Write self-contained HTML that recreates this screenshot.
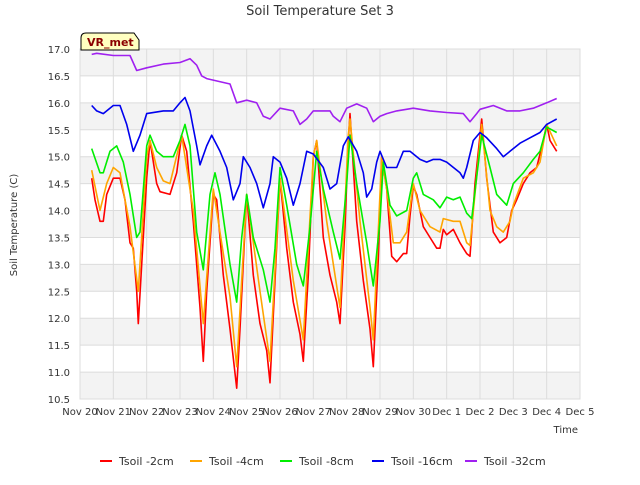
<!DOCTYPE html>
<html><head><meta charset="utf-8"><style>
body{margin:0;background:#fff;font-family:"Liberation Sans",sans-serif}
svg text{font-family:"DejaVu Sans","Liberation Sans",sans-serif}
</style></head><body>
<svg id="c" width="640" height="480"></svg>
<script>
const yTicks=[10.5,11.0,11.5,12.0,12.5,13.0,13.5,14.0,14.5,15.0,15.5,16.0,16.5,17.0];
const xTickLabels=["Nov 20","Nov 21","Nov 22","Nov 23","Nov 24","Nov 25","Nov 26","Nov 27","Nov 28","Nov 29","Nov 30","Dec 1","Dec 2","Dec 3","Dec 4","Dec 5"];
const seriesNames=["Tsoil -2cm","Tsoil -4cm","Tsoil -8cm","Tsoil -16cm","Tsoil -32cm"];
const seriesColors=["#ff0000","#ffa500","#00ee00","#0000ee","#a020f0"];
const dRed=[[0.35,14.6],[0.45,14.2],[0.6,13.8],[0.7,13.8],[0.8,14.3],[1.0,14.6],[1.2,14.6],[1.35,14.2],[1.5,13.4],[1.6,13.3],[1.7,12.5],[1.75,11.9],[1.85,13.0],[2.0,14.6],[2.1,15.3],[2.3,14.5],[2.4,14.35],[2.7,14.3],[2.9,14.7],[3.05,15.4],[3.2,15.1],[3.4,13.8],[3.6,12.2],[3.7,11.2],[3.8,12.5],[4.0,14.3],[4.1,14.2],[4.3,12.8],[4.5,11.8],[4.7,10.7],[4.8,11.8],[5.0,14.3],[5.2,12.8],[5.4,11.9],[5.6,11.4],[5.7,10.8],[5.85,12.7],[6.0,14.6],[6.2,13.3],[6.4,12.3],[6.6,11.7],[6.7,11.2],[6.85,12.8],[7.0,15.0],[7.1,15.3],[7.3,13.5],[7.5,12.8],[7.7,12.3],[7.8,11.9],[7.95,13.7],[8.05,15.3],[8.1,15.8],[8.3,13.8],[8.5,12.7],[8.7,11.8],[8.8,11.1],[8.95,13.1],[9.05,15.0],[9.2,14.4],[9.35,13.15],[9.5,13.05],[9.7,13.2],[9.8,13.2],[9.9,13.9],[10.0,14.45],[10.1,14.3],[10.3,13.7],[10.5,13.5],[10.7,13.3],[10.8,13.3],[10.9,13.65],[11.0,13.55],[11.2,13.65],[11.4,13.4],[11.5,13.3],[11.6,13.2],[11.7,13.15],[11.85,14.5],[12.05,15.7],[12.2,14.6],[12.4,13.6],[12.6,13.4],[12.8,13.5],[12.95,14.0],[13.1,14.2],[13.3,14.5],[13.5,14.7],[13.7,14.8],[13.9,15.3],[14.0,15.6],[14.1,15.3],[14.3,15.1]];
const dOrange=[[0.35,14.75],[0.6,14.0],[0.8,14.5],[1.0,14.8],[1.2,14.7],[1.5,13.7],[1.75,12.5],[2.0,15.0],[2.1,15.3],[2.3,14.8],[2.5,14.55],[2.7,14.5],[3.05,15.4],[3.4,14.0],[3.7,11.9],[4.0,14.4],[4.5,12.4],[4.7,11.1],[5.0,14.3],[5.4,12.5],[5.7,11.2],[6.0,14.6],[6.4,12.7],[6.7,11.6],[7.0,15.0],[7.1,15.3],[7.4,13.8],[7.8,12.2],[8.05,15.4],[8.1,15.7],[8.4,13.8],[8.7,12.2],[8.8,11.6],[9.05,15.0],[9.2,14.4],[9.4,13.4],[9.6,13.4],[9.8,13.6],[10.0,14.5],[10.2,14.0],[10.5,13.7],[10.8,13.6],[10.9,13.85],[11.2,13.8],[11.4,13.8],[11.6,13.4],[11.7,13.35],[12.05,15.6],[12.3,14.0],[12.5,13.7],[12.7,13.6],[12.9,13.8],[13.0,14.1],[13.3,14.6],[13.6,14.7],[13.8,14.9],[14.0,15.6],[14.3,15.2]];
const dGreen=[[0.35,15.15],[0.6,14.7],[0.7,14.7],[0.9,15.1],[1.1,15.2],[1.3,14.9],[1.5,14.3],[1.7,13.5],[1.8,13.6],[2.0,15.2],[2.1,15.4],[2.3,15.1],[2.5,15.0],[2.8,15.0],[3.0,15.3],[3.15,15.6],[3.3,15.2],[3.5,13.6],[3.7,12.9],[3.9,14.3],[4.05,14.7],[4.2,14.3],[4.5,13.0],[4.7,12.3],[4.85,13.5],[5.0,14.3],[5.2,13.5],[5.5,12.9],[5.7,12.3],[5.85,13.3],[6.0,14.8],[6.2,14.1],[6.5,13.0],[6.7,12.6],[6.9,13.7],[7.1,15.1],[7.3,14.4],[7.6,13.6],[7.8,13.1],[8.0,14.5],[8.1,15.4],[8.3,14.5],[8.6,13.4],[8.8,12.6],[9.0,13.8],[9.1,14.9],[9.3,14.1],[9.5,13.9],[9.8,14.0],[10.0,14.6],[10.1,14.7],[10.3,14.3],[10.6,14.2],[10.8,14.05],[11.0,14.25],[11.2,14.2],[11.4,14.25],[11.6,13.95],[11.75,13.85],[12.05,15.4],[12.3,14.8],[12.5,14.3],[12.8,14.1],[13.0,14.5],[13.3,14.7],[13.6,14.95],[13.8,15.1],[14.0,15.55],[14.3,15.45]];
const dBlue=[[0.35,15.95],[0.5,15.85],[0.7,15.8],[1.0,15.95],[1.2,15.95],[1.4,15.6],[1.6,15.1],[1.8,15.4],[2.0,15.8],[2.5,15.85],[2.8,15.85],[3.0,16.0],[3.15,16.1],[3.3,15.85],[3.5,15.2],[3.6,14.85],[3.8,15.2],[3.95,15.4],[4.2,15.1],[4.4,14.8],[4.6,14.2],[4.8,14.5],[4.9,15.0],[5.1,14.8],[5.3,14.5],[5.5,14.05],[5.7,14.5],[5.8,15.0],[6.0,14.9],[6.2,14.6],[6.4,14.1],[6.6,14.5],[6.8,15.1],[7.0,15.05],[7.3,14.8],[7.5,14.4],[7.7,14.5],[7.9,15.2],[8.05,15.37],[8.3,15.1],[8.5,14.7],[8.6,14.25],[8.75,14.4],[8.9,14.9],[9.0,15.1],[9.2,14.8],[9.5,14.8],[9.7,15.1],[9.9,15.1],[10.2,14.95],[10.4,14.9],[10.6,14.95],[10.8,14.95],[11.0,14.9],[11.4,14.7],[11.5,14.6],[11.6,14.8],[11.8,15.3],[12.0,15.45],[12.2,15.35],[12.5,15.15],[12.7,15.0],[12.9,15.1],[13.2,15.25],[13.5,15.35],[13.8,15.45],[14.0,15.6],[14.3,15.7]];
const dPurple=[[0.35,16.9],[0.5,16.92],[1.0,16.88],[1.5,16.88],[1.7,16.6],[2.0,16.65],[2.5,16.72],[3.0,16.75],[3.3,16.82],[3.5,16.7],[3.65,16.5],[3.8,16.45],[4.5,16.35],[4.7,16.0],[5.0,16.05],[5.3,16.0],[5.5,15.75],[5.7,15.7],[6.0,15.9],[6.4,15.85],[6.6,15.6],[6.8,15.7],[7.0,15.85],[7.5,15.85],[7.6,15.75],[7.8,15.65],[8.0,15.9],[8.3,15.98],[8.6,15.9],[8.8,15.65],[9.0,15.75],[9.2,15.8],[9.5,15.85],[10.0,15.9],[10.5,15.85],[11.0,15.82],[11.5,15.8],[11.7,15.65],[11.9,15.8],[12.0,15.88],[12.4,15.95],[12.8,15.85],[13.2,15.85],[13.6,15.9],[14.0,16.0],[14.3,16.08]];
const allSeries=[dRed,dOrange,dGreen,dBlue,dPurple];

const NS="http://www.w3.org/2000/svg";
const svg=document.getElementById('c');
const L=80,R=580,T=49,B=399;
const xs=d=>L+(d/15)*(R-L);
const ys=v=>B-(v-10.5)/6.5*(B-T);
function mk(t,a,p){const e=document.createElementNS(NS,t);for(const k in a)e.setAttribute(k,a[k]);(p||svg).appendChild(e);return e;}
// bands
for(let i=0;i<yTicks.length-1;i++){
  if(i%2===0){const b=mk('rect',{x:L,y:ys(yTicks[i+1]),width:R-L,height:ys(yTicks[i])-ys(yTicks[i+1]),fill:i%2===0?'#f3f3f3':'#fff'});
  
  }
}
yTicks.forEach(v=>{
  const g=mk('line',{x1:L,x2:R,y1:ys(v),y2:ys(v),stroke:'#dcdcdc','stroke-width':1});
  
  
  const t=mk('text',{x:L-10,y:ys(v)+4,'text-anchor':'end','font-size':10,fill:'#333'});
  t.textContent=v.toFixed(1);
  
  
});
xTickLabels.forEach((s,i)=>{
  const g=mk('line',{x1:xs(i),x2:xs(i),y1:T,y2:B,stroke:'#dcdcdc','stroke-width':1});
  
  
  const t=mk('text',{x:xs(i),y:B+16,'text-anchor':'middle','font-size':10,fill:'#333'});
  t.textContent=s;
  
  
});
const fr=mk('rect',{x:L,y:T,width:R-L,height:B-T,fill:'none',stroke:'#dcdcdc'});


allSeries.forEach((s,i)=>{
  const p=mk('polyline',{points:s.map(q=>xs(q[0]).toFixed(1)+','+ys(q[1]).toFixed(1)).join(' '),fill:'none',stroke:seriesColors[i],'stroke-width':1.6,'stroke-linejoin':'round'});
  
  
});
let t=mk('text',{x:320,y:15,'text-anchor':'middle','font-size':13,fill:'#333'});t.textContent='Soil Temperature Set 3';


t=mk('text',{x:578,y:433,'text-anchor':'end','font-size':10,fill:'#333'});t.textContent='Time';


t=mk('text',{x:17,y:225,'text-anchor':'middle','font-size':10,fill:'#333',transform:'rotate(-90 17 225)'});t.textContent='Soil Temperature (C)';


// VR_met box
const vb=mk('path',{d:'M81,50 L81,38 Q81,33 86,33 L134,33 L139,40 L139,50 Z',fill:'#ffffc0',stroke:'#000','stroke-width':1});


t=mk('text',{x:87,y:46,'font-size':11,'font-weight':'bold',fill:'#8b0000'});t.textContent='VR_met';


// legend
const lx=[100,190,280,372,465];
seriesNames.forEach((n,i)=>{
  const g=mk('g',{});
  
  
  mk('line',{x1:lx[i],x2:lx[i]+12,y1:461,y2:461,stroke:seriesColors[i],'stroke-width':2},g);
  const tt=mk('text',{x:lx[i]+19,y:465,'font-size':11,fill:'#333'},g);tt.textContent=n;
});
</script>
</body></html>
